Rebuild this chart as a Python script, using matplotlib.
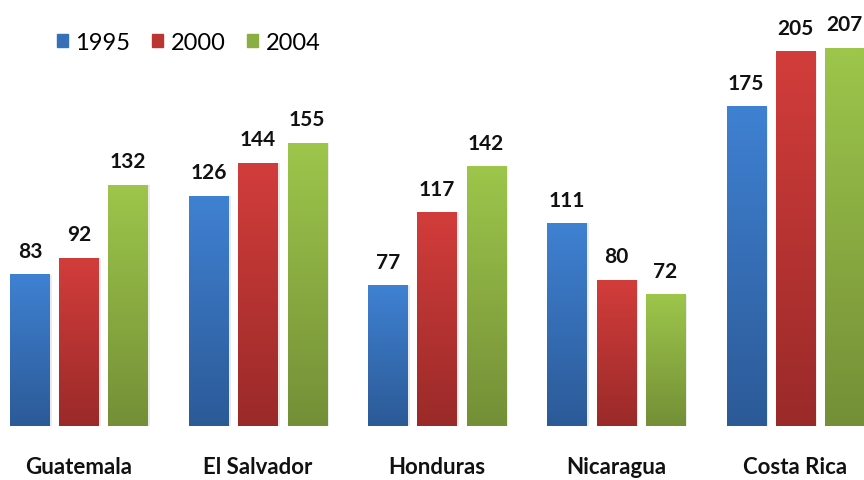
import numpy as np
from matplotlib import pyplot as plt
from matplotlib.colors import LinearSegmentedColormap

# data
countries = ["Guatemala", "El Salvador", "Honduras", "Nicaragua", "Costa Rica"]
years = ["1995", "2000", "2004"]
v1995 = [83, 126, 77, 111, 175]
v2000 = [92, 144, 117, 80, 205]
v2004 = [132, 155, 142, 72, 207]

# top / bottom colours of each series gradient
tops = ["#3f81d2", "#d23d3b", "#9dc64b"]
bottoms = ["#2c5a97", "#9a2a29", "#748f37"]
mids = ["#3670b8", "#bb3533", "#8aae42"]

plt.rcParams['font.family'] = ['Lato', 'DejaVu Sans']

fig = plt.figure(figsize=(8.64, 4.81), dpi=100)
ax = fig.add_axes([0, 0, 1, 1])

x = np.arange(len(countries))
width = 0.218
step = 0.274

for k, vals in enumerate([v1995, v2000, v2004]):
    pos = x + (k - 1) * step
    # faint shadow on the right of each bar
    ax.bar(pos + 0.012, vals, width, color="#000000", alpha=0.08, zorder=1)
    bars = ax.bar(pos, vals, width, color=mids[k], label=years[k], zorder=2)
    cmap = LinearSegmentedColormap.from_list("g%d" % k, [bottoms[k], tops[k]])
    grad = np.linspace(0, 1, 256).reshape(-1, 1)
    for b in bars:
        x0, y0 = b.get_x(), b.get_y()
        ax.imshow(grad, cmap=cmap, origin="lower", aspect="auto", zorder=3,
                  extent=(x0, x0 + b.get_width(), y0, y0 + b.get_height()))
        ax.annotate(str(int(b.get_height())), (x0 + b.get_width() / 2, b.get_height()),
                    xytext=(0, 10), textcoords="offset points", ha="center",
                    va="bottom", fontsize=15, fontweight="bold", color="#111111")

for i, c in enumerate(countries):
    ax.text(i, -22, c, ha="center", va="center", fontsize=16,
            fontweight="bold", color="#111111")

ax.set_xlim(-0.441, 4.385)
ax.set_ylim(-29.6, 234)
ax.axis("off")

leg = ax.legend(loc="upper left", bbox_to_anchor=(0.047, 0.966), ncol=3,
                frameon=False, fontsize=17, handlelength=0.47, handleheight=0.5,
                handletextpad=0.3, columnspacing=0.93, borderpad=0.2)
for h, col in zip(leg.legend_handles, mids):
    h.set_color(col)

fig.savefig("out.png", dpi=100)
